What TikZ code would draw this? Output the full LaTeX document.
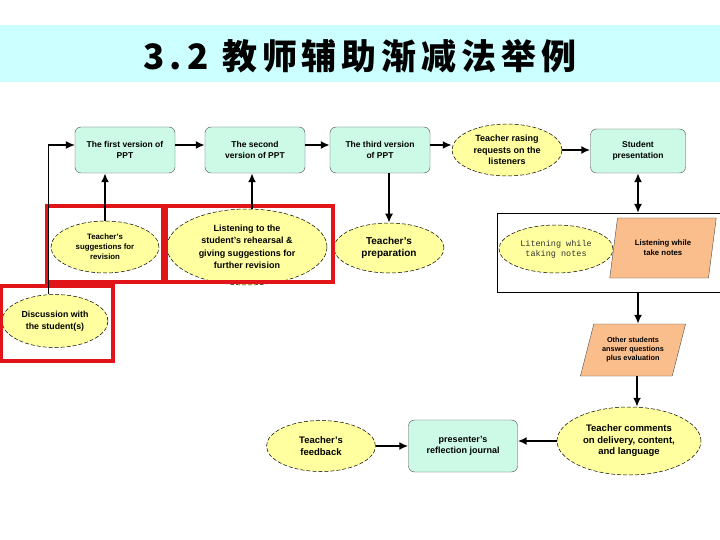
\documentclass[tikz,border=0pt]{standalone}
\usepackage{fontspec}
\setmainfont{Liberation Sans}
\newfontfamily\titlefont{Noto Sans CJK SC}[LetterSpace=14]
\newfontfamily\notefont{Liberation Mono}
\usetikzlibrary{shapes.geometric,arrows.meta,positioning}
\definecolor{TitleBand}{RGB}{204,255,255}
\definecolor{BoxFill}{RGB}{204,250,230}
\definecolor{EllFill}{RGB}{255,255,160}
\definecolor{ParaFill}{RGB}{250,190,140}
\definecolor{FrameRed}{RGB}{225,20,25}

\begin{document}
\begin{tikzpicture}[x=1pt,y=-1pt,font=\bfseries,
  fs/.style 2 args={font=\bfseries\fontsize{#1}{#2}\selectfont},
  box/.style={rectangle,rounded corners=6pt,draw=black!70,fill=BoxFill,minimum width=#1pt,minimum height=46pt,align=center,inner sep=1pt},
  ell/.style n args={2}{ellipse,draw,dash pattern=on 4pt off 2pt,line width=0.5pt,fill=EllFill,minimum width=#1pt,minimum height=#2pt,inner sep=0pt,align=center},
  para/.style n args={3}{trapezium,trapezium left angle=#1,trapezium right angle=180-#1,trapezium stretches=true,draw=black!70,fill=ParaFill,minimum width=#2pt,minimum height=#3pt,inner sep=0pt,align=center},
  bigtip/.tip={Latex[length=9pt,width=8pt]},
  arr/.style={line width=2.2pt,-bigtip},
  redframe/.style={draw=FrameRed,line width=3.2pt}]
\useasboundingbox[fill=white] (0,0) rectangle (720,540);
\fill[TitleBand] (0,25) rectangle (720,82);
\node[font=\titlefont\bfseries\fontsize{35}{35}\selectfont] (title) at (360,56) {3.\,2 教师辅助渐减法举例};

\node[box=100,fs={8.5}{11}] (first) at (125,150) {The first version of\\PPT};
\node[box=100,fs={8.5}{11}] (second) at (255,150) {The second\\version of PPT};
\node[box=100,fs={8.5}{11}] (third) at (380,150) {The third version\\of PPT};
\node[ell={110}{52},fs={9}{11.5}] (raising) at (507,150) {Teacher rasing\\requests on the\\listeners};
\node[box=95,minimum height=44pt,fs={8.5}{11}] (present) at (638,151) {Student\\presentation};

\node[ell={108}{52},fs={7.8}{10}] (sugg) at (105,247) {Teacher's\\suggestions for\\revision};
\node[ell={160}{76},fs={9}{12.5}] (listen) at (247,247) {Listening to the\\student's rehearsal \&\\giving suggestions for\\further revision};
\node[ell={110}{50},fs={10}{12}] (prep) at (389,248) {Teacher's\\preparation};
\node[ell={106}{53},fs={8.8}{12}] (discuss) at (55,321) {Discussion with\\the student(s)};

\draw[line width=0.8pt] (720,213) -- (497,213) -- (497,292) -- (720,292);
\coordinate (frametop) at (638,213);
\coordinate (framebot) at (638,292);
\node[ell={114}{48},font=\notefont\fontsize{8.5}{10}\selectfont,text=black!80] (litening) at (556,249) {Litening while\\taking notes};
\node[para={73}{107}{60},fs={7.8}{10}] (takenotes) at (663,248) {Listening while\\take notes};
\node[para={67}{106}{52},fs={7.3}{9}] (others) at (633,350) {Other students\\answer questions\\plus evaluation};
\node[ell={144}{68},fs={9.5}{11.5}] (comments) at (629,441) {Teacher comments\\on delivery, content,\\and language};
\node[box=109,minimum height=52pt,fs={9}{11.5}] (journal) at (463,446) {presenter's\\reflection journal};
\node[ell={109}{51},fs={9.5}{11.5}] (feedback) at (321,446) {Teacher's\\feedback};

\draw[redframe] (47,206) rectangle (163,282);
\draw[redframe] (166,206) rectangle (333,282);
\draw[redframe] (1,286) rectangle (113,361);

\draw[arr] ([yshift=5pt]first.east) -- ([yshift=5pt]second.west);
\draw[arr] ([yshift=5pt]second.east) -- ([yshift=5pt]third.west);
\draw[arr] ([yshift=5pt]third.east) -- ([yshift=5pt]raising.west);
\draw[arr] (raising.east) -- (raising.east -| present.west);
\draw[arr] (sugg.north) -- (sugg.north |- first.south);
\draw[arr] ([xshift=5pt]listen.north) -- ([xshift=5pt]listen.north |- second.south);
\draw[arr] (prep.north |- third.south) -- (prep.north);
\draw[line width=1.2pt,-bigtip] (discuss.104) |- ([yshift=5pt]first.west);
\draw[line width=2.2pt,bigtip-bigtip] (present.south) -- (frametop);
\draw[arr] (framebot) -- (framebot |- others.north);
\draw[arr] ([xshift=4pt]others.south) -- ([xshift=4pt]others.south |- comments.north);
\draw[arr] (comments.west) -- (comments.west -| journal.east);
\draw[arr] (feedback.east) -- (journal.west);
\end{tikzpicture}
\end{document}
